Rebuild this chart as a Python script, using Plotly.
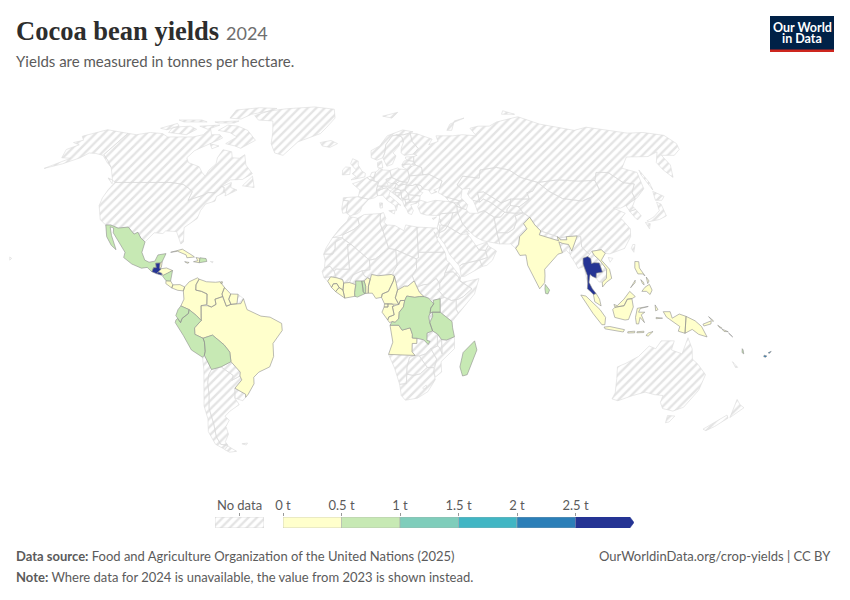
import numpy as np
import plotly.graph_objects as go

### Yields (tonnes per hectare)
yield_countries = ["Mexico", "Guatemala", "Belize", "El Salvador", "Honduras", "Nicaragua", "Costa Rica", "Panama",
                   "Cuba", "Haiti", "Dominican Republic", "Jamaica", "Trinidad", "Colombia", "Venezuela", "Guyana",
                   "Suriname", "Ecuador", "Peru", "Bolivia", "Brazil", "Guinea", "Sierra Leone", "Liberia",
                   "Cote d'Ivoire", "Ghana", "Togo", "Benin", "Nigeria", "Cameroon", "Central African Republic",
                   "Equatorial Guinea", "Gabon", "Congo", "DR Congo", "Uganda", "Tanzania", "Angola", "Madagascar",
                   "India", "Sri Lanka", "Thailand", "Vietnam", "Malaysia", "Indonesia", "Philippines",
                   "Papua New Guinea", "Solomon Islands", "Vanuatu", "Fiji"]
yield_values = [0.6, 2.8, 0.3, 2.6, 0.3, 0.6, 0.2, 0.2,
                0.3, 0.4, 0.6, 0.2, 0.1, 0.4, 0.3, 0.2,
                0.2, 0.6, 0.8, 0.6, 0.3, 0.3, 0.4, 0.3,
                0.4, 0.6, 0.6, 0.4, 0.3, 0.4, 0.3,
                0.3, 0.3, 0.3, 0.7, 0.6, 0.7, 0.3, 0.6,
                0.3, 0.7, 2.8, 0.4, 0.3, 0.4, 0.4,
                0.4, 0.3, 0.7, 2.2]

legend_edges = [0, 0.5, 1, 1.5, 2, 2.5]
legend_max = 3
legend_labels = ["0 t", "0.5 t", "1 t", "1.5 t", "2 t", "2.5 t"]
bin_colors = ["#ffffcc", "#c7e9b4", "#7fcdbb", "#41b6c4", "#2c7fb8", "#253494"]

### Country outlines (lon, lat), rough
# North America
CANADA = [(-141,69.6),(-135,69),(-128,70),(-120,69.5),(-115,68),(-108,68),(-100,68),(-95,69),(-94,72),(-90,69),(-85,69),(-82,67.5),(-87,65),(-93,62),(-94.5,59),(-92,57),(-85,55.3),(-82,53),(-79.5,51.5),(-79,54),(-77,56.5),(-78,59),(-77.5,62.4),(-72,61.5),(-70,59),(-66,58.8),(-64,60.3),(-61,56),(-56,52.5),(-60,50.2),(-66,50),(-70,47),(-65,49),(-64.5,47),(-61,46),(-64,44.5),(-66,43.7),(-66,45),(-67,45),(-67.8,47.1),(-69.2,47.4),(-71,45),(-74.7,45),(-76.5,44),(-79,43.3),(-83,42),(-82.5,45.3),(-84.5,46.5),(-88.5,48.2),(-95,49),(-123,49),(-125,50),(-130,54.5),(-131,55.2),(-136,58),(-141,60.3)]
BAFFIN = [(-62,66.5),(-68,63),(-72,64),(-78,65),(-74,68),(-80,70),(-88,71),(-85,73.5),(-78,73),(-70,71)]
VICTORIA = [(-117,70),(-105,69),(-102,71.5),(-108,73),(-118,72.5)]
ELLESMERE = [(-62,82.5),(-75,83),(-90,81.5),(-88,77),(-80,76.5),(-76,79),(-65,81)]
BANKS = [(-125,72),(-118,74.3),(-115,73),(-120,71.3)]
DEVON = [(-95,75),(-80,75.5),(-82,74.5),(-92,74.5)]
MELVILLE = [(-120,76),(-105,76),(-100,75),(-115,75)]
SOMERSET = [(-102,73),(-90,73.5),(-95,71.5)]
SOUTHAMPTON = [(-87,65),(-81,64),(-84,62.8)]
NEWFOUNDLAND = [(-59,47.7),(-53,47),(-55.5,51.5)]
VANCOUVER = [(-128,50.8),(-124,48.5),(-125,50)]
USA = [(-123,49),(-95,49),(-88.5,48.2),(-84.5,46.5),(-82.5,45.3),(-83,42),(-79,43.3),(-76.5,44),(-74.7,45),(-71,45),(-69.2,47.4),(-67.8,47.1),(-67,45),(-70,43.5),(-70,41.7),(-74,40.6),(-75.5,38),(-76,35),(-81,31.5),(-80,26),(-81,25.2),(-82.7,28),(-84,30),(-89,30.2),(-90,29.2),(-94,29.5),(-97.2,26),(-99.5,27.5),(-101.4,29.7),(-103,29),(-106.5,31.7),(-111,31.3),(-114.8,32.5),(-117.1,32.5),(-120.5,34.5),(-124,40),(-124.5,43),(-124,46.3)]
ALASKA = [(-141,69.6),(-148,70.4),(-156.5,71.3),(-166,68.3),(-162,66.5),(-166,65.5),(-161,64.5),(-165,62.5),(-162,59),(-157,58.8),(-165,54.6),(-158,56.5),(-152,59),(-150,61),(-146,60.8),(-141,60),(-135,57),(-131,55.2),(-136,58),(-141,60.3)]
HAWAII = [(-156,20.2),(-155,19.7),(-155.7,19)]
GREENLAND = [(-73,78.3),(-66,80.8),(-55,82.3),(-35,83.5),(-20,82),(-18,77),(-22,72.5),(-25,69.5),(-37,65.8),(-43,60),(-48,61),(-52,65),(-54,70),(-58,75.5),(-68,76)]
ICELAND = [(-24,65.5),(-18,66.4),(-14,65),(-18,63.4),(-22.5,64)]
# Central America and Caribbean
MEXICO = [(-117.1,32.5),(-114.8,32.5),(-111,31.3),(-106.5,31.7),(-103,29),(-101.4,29.7),(-99.5,27.5),(-97.2,26),(-97.8,22),(-96,19),(-94,18.2),(-91.5,18.6),(-90.5,21),(-87,21.5),(-88.2,18.5),(-89.1,17.9),(-91,17.8),(-90.5,16.1),(-91.7,16.1),(-92.2,14.5),(-94.5,16.2),(-97,15.9),(-101.5,17.5),(-105.5,20),(-105.3,22),(-109,26),(-112.5,29.5),(-113,31.3),(-114.8,31.8),(-113,28.5),(-110.5,24.5),(-109.5,23),(-112,24.7),(-115,28)]
GUATEMALA = [(-92.2,14.5),(-91.7,16.1),(-90.5,16.1),(-91,17.8),(-89.1,17.9),(-89.1,15.9),(-88.3,15.7),(-89.3,14.4),(-90.1,13.8)]
BELIZE = [(-89.1,17.9),(-88.2,18.5),(-88.3,16.2),(-89.1,15.9)]
EL_SALVADOR = [(-90.1,13.8),(-89.3,14.4),(-87.8,13.9),(-87.8,13.2)]
HONDURAS = [(-89.3,14.4),(-88.3,15.7),(-86,16),(-83.2,15),(-85,14),(-87,13),(-87.8,13.9)]
NICARAGUA = [(-87.5,13),(-85,14),(-83.2,15),(-83.7,11),(-85.7,11.1)]
COSTA_RICA = [(-85.7,11.1),(-83.7,11),(-82.6,9.5),(-83,8.3),(-85.7,10)]
PANAMA = [(-83,8.3),(-82.6,9.5),(-79.5,9.6),(-77.4,8.7),(-77.9,7.2),(-80.3,7.4)]
CUBA = [(-85,22),(-80,23.2),(-75,20.7),(-74.2,20.2),(-77.5,19.9),(-78,21),(-82,22.4)]
HAITI = [(-74.4,18.4),(-71.8,18),(-71.7,19.7),(-73.5,20),(-72.5,18.8)]
DOMINICAN = [(-71.8,18),(-68.5,18.5),(-69,19.6),(-71.7,19.9),(-71.7,19.7)]
JAMAICA = [(-78.3,18.4),(-76.3,18.1),(-77,17.8)]
PUERTO_RICO = [(-67,18.5),(-65.7,18.4),(-66,18)]
TRINIDAD = [(-61.7,10.7),(-61,10.7),(-61,10.1),(-61.7,10.1)]
# South America
COLOMBIA = [(-77.9,7.2),(-77.4,8.7),(-75.5,10.7),(-72,12.2),(-71.3,11.7),(-72.5,9.5),(-72.5,7.5),(-70,7),(-67.5,6),(-67.5,2),(-70,1.5),(-70,-4.2),(-72,-2.3),(-75.2,0),(-78.8,1.4),(-77.5,4)]
VENEZUELA = [(-71.3,11.7),(-68,10.7),(-64,10.5),(-62,10.7),(-60,8.5),(-61,6),(-60.7,5),(-64,4),(-63.5,2),(-65.5,1),(-67,1.5),(-67.5,2),(-67.5,6),(-70,7),(-72.5,7.5),(-72.5,9.5)]
GUYANA = [(-60,8.5),(-57.2,6),(-58,4),(-57,2),(-59,1.3),(-60.7,5),(-61,6)]
SURINAME = [(-57.2,6),(-54,5.9),(-54.4,2.3),(-57,2),(-58,4)]
FRENCH_GUIANA = [(-54,5.9),(-51.6,4.2),(-52.7,2.3),(-54.4,2.3)]
ECUADOR = [(-78.8,1.4),(-75.2,0),(-75.5,-1.5),(-78.3,-3.4),(-79,-5),(-80.3,-3.4),(-81,-2.3),(-80,0)]
PERU = [(-75.2,0),(-72,-2.3),(-70,-4.2),(-73,-7),(-73,-9.5),(-69.5,-11),(-69,-12.5),(-69,-16),(-69.5,-17.5),(-70.4,-18.3),(-75,-15.5),(-78,-10),(-81.3,-5),(-81,-4),(-80.3,-3.4),(-79,-5),(-78.3,-3.4),(-75.5,-1.5)]
BOLIVIA = [(-69.5,-11),(-65.3,-9.8),(-60.5,-13.5),(-58.2,-16.3),(-58,-20),(-62.6,-22),(-67,-23),(-68.5,-19.5),(-69.5,-17.5),(-69,-16),(-69,-12.5)]
BRAZIL = [(-60.7,5),(-59,1.3),(-57,2),(-54.4,2.3),(-52.7,2.3),(-51.6,4.2),(-50,0),(-44,-2.5),(-40,-2.9),(-35,-5.3),(-34.8,-8),(-39,-13),(-39,-18),(-41,-22),(-46,-24),(-48.5,-26),(-48.7,-28.5),(-52,-32.5),(-53.4,-33.7),(-53.2,-32.5),(-57.6,-30.2),(-54,-27),(-54.6,-25.5),(-54.3,-24),(-55.7,-22.3),(-58,-20),(-58.2,-16.3),(-60.5,-13.5),(-65.3,-9.8),(-69.5,-11),(-73,-9.5),(-73,-7),(-70,-4.2),(-70,1.5),(-67,1.5),(-65.5,1),(-63.5,2),(-64,4)]
PARAGUAY = [(-58,-20),(-55.7,-22.3),(-54.3,-24),(-54.6,-25.5),(-58.5,-27.2),(-57.6,-25.3),(-62.6,-22)]
URUGUAY = [(-57.6,-30.2),(-53.2,-32.5),(-53.4,-33.7),(-55,-35),(-58.4,-34)]
ARGENTINA = [(-67,-23),(-62.6,-22),(-57.6,-25.3),(-58.5,-27.2),(-54.6,-25.5),(-54,-27),(-57.6,-30.2),(-58.4,-34),(-57,-36.5),(-62,-39),(-65,-41),(-63.5,-42.5),(-66,-45),(-66,-48),(-69,-51),(-68.4,-52.4),(-71.9,-52),(-72.5,-49),(-71.5,-44),(-71.5,-38),(-70,-33),(-69.5,-28),(-68.5,-25)]
CHILE = [(-70.4,-18.3),(-69.5,-17.5),(-68.5,-19.5),(-67,-23),(-68.5,-25),(-69.5,-28),(-70,-33),(-71.5,-38),(-71.5,-44),(-72.5,-49),(-71.9,-52),(-68.4,-52.4),(-71,-54),(-74.5,-52),(-75.5,-47),(-73.5,-42),(-73.5,-37),(-71.5,-30),(-70.4,-23)]
TIERRA_DEL_FUEGO = [(-68.6,-52.7),(-65.2,-54.8),(-69,-55.2),(-71,-54.2)]
FALKLANDS = [(-61,-51.8),(-58,-51.5),(-59,-52.3)]
# Africa
MOROCCO = [(-5.9,35.8),(-2,35.1),(-1.2,32.5),(-3.7,30.8),(-8.7,28.7),(-13.2,27.7),(-12,29),(-9.8,31.5),(-6.8,34)]
WESTERN_SAHARA = [(-13.2,27.7),(-8.7,27.7),(-12,26),(-12,23.4),(-13,21.3),(-17,21.3),(-16,23.7)]
ALGERIA = [(-2,35.1),(1,36.5),(8.6,36.9),(8.3,33),(9.5,30.2),(11.9,23.5),(6,19.5),(3.3,19),(-4.8,25),(-8.7,27.3),(-8.7,28.7),(-3.7,30.8),(-1.2,32.5)]
TUNISIA = [(8.6,36.9),(10,37.3),(11,35),(10,33.5),(11.5,32.5),(9.5,30.2),(8.3,33)]
LIBYA = [(11.5,32.5),(15,32.3),(19,30.3),(20,32.5),(25,31.7),(25,20),(24,19.5),(15,23),(11.9,23.5),(9.5,30.2)]
EGYPT = [(25,31.7),(31,31.5),(34.2,31.3),(35,29.5),(34,27.5),(32.6,29.9),(34,26.5),(36.9,22),(25,22)]
SUDAN = [(25,22),(36.9,22),(37.5,18.7),(38.6,18),(36.5,14.3),(36,12.7),(33.9,10),(32.5,12),(29,9.7),(27,9.6),(24,8.7),(22.8,11),(22,13),(24,15.7),(24,19.5),(25,20)]
SOUTH_SUDAN = [(24,8.7),(27,9.6),(29,9.7),(32.5,12),(33.9,10),(34,8),(33,7.8),(35.9,4.7),(34,4.2),(31,3.6),(29,4.4),(27,5),(25,6.7)]
ETHIOPIA = [(36,12.7),(36.5,14.3),(40,14.5),(42.3,12.5),(42.8,11),(48,8),(44,4.9),(42,4),(39,3.5),(35.9,4.7),(33,7.8),(34,8),(33.9,10)]
ERITREA = [(36.5,14.3),(38.6,18),(43,12.7),(42.3,12.5),(40,14.5)]
DJIBOUTI = [(42.3,12.5),(43.3,12.5),(42.8,11)]
SOMALIA = [(42.8,11),(44,10.5),(51.2,11.9),(49,6),(42,-1.5),(41,0),(41,3.9),(42,4),(44,4.9),(48,8)]
KENYA = [(35.9,4.7),(39,3.5),(41,3.9),(41,0),(42,-1.5),(39.2,-4.6),(34,-1),(34,4.2)]
UGANDA = [(31,3.6),(34,4.2),(34,-1),(30.5,-1),(29.6,-1.4),(29.9,0.6),(31.2,2.2)]
TANZANIA = [(30.5,-1),(34,-1),(39.2,-4.6),(39.5,-7),(40.4,-10.4),(37,-11.7),(34.8,-11.5),(33,-9.4),(30.8,-8.2),(29.5,-5),(30.8,-2.5)]
RWANDA = [(29.6,-1.4),(30.5,-1),(30.8,-2.5),(29,-2.7)]
BURUNDI = [(29,-2.7),(30.8,-2.5),(29.5,-4.4)]
DR_CONGO = [(12.2,-6),(13.1,-4.6),(14.4,-4.9),(16,-3.5),(16.2,-1),(18,1),(18.6,3.5),(19.5,5.2),(23,4.7),(25,5),(27,5),(29,4.4),(31.2,2.2),(29.9,0.6),(29.6,-1.4),(29,-2.7),(29.5,-5),(30.8,-8.2),(28.4,-9),(28.4,-11.8),(29.8,-12.2),(29,-13.4),(27,-11.6),(24,-11),(22,-10.9),(22,-9.5),(21,-7),(17.5,-7.9),(16,-6)]
CONGO = [(11.2,-4),(11.7,-2.8),(13,-2.4),(14,-2),(13.2,1.2),(14,1.4),(16,2),(16.7,3.5),(18.6,3.5),(18,1),(16.2,-1),(16,-3.5),(14.4,-4.9),(13.1,-4.6),(12,-5)]
GABON = [(9.6,1),(11.3,1),(11.3,2.2),(13.2,2.2),(14,1.4),(13.2,1.2),(14,-2),(13,-2.4),(11.7,-2.8),(11.2,-4),(8.7,-1)]
EQ_GUINEA = [(9.6,1),(9.8,2.2),(11.3,2.2),(11.3,1)]
CAMEROON = [(8.5,4.7),(9.8,2.2),(11.3,2.2),(13.2,2.2),(16,2),(14.5,4.5),(15.5,7.5),(15,10),(14.2,12.8),(13.7,11),(11.5,7),(8.8,6)]
CAR = [(14.5,4.5),(15.5,7.5),(18.5,9),(20,9),(22.8,11),(24,8.7),(25,6.7),(27,5),(25,5),(23,4.7),(19.5,5.2),(18.6,3.5),(16.7,3.5),(16,2)]
CHAD = [(13.5,14),(14.2,12.8),(15,10),(15.5,7.5),(18.5,9),(20,9),(22.8,11),(22,13),(24,15.7),(24,19.5),(15,23),(15.5,17)]
NIGER = [(0,14.9),(3.5,15.3),(3.3,19),(6,19.5),(11.9,23.5),(15,23),(15.5,17),(13.5,14),(14.2,12.8),(13,13.5),(7,13),(4.2,13.5),(3.6,11.7),(2.4,12.2),(1,13)]
NIGERIA = [(2.7,6.3),(2.8,9),(3.6,11.7),(4.2,13.5),(7,13),(13,13.5),(14.2,12.8),(13.7,11),(11.5,7),(8.8,6),(8.5,4.7),(6,4.3),(4.5,6.3)]
BENIN = [(1.6,6.2),(2.7,6.3),(2.8,9),(3.6,11.7),(2.4,12.2),(0.9,11),(1.6,9)]
TOGO = [(1.2,6.1),(1.6,6.2),(1.6,9),(0.9,11),(-0.1,11),(0.5,8),(0.5,7)]
GHANA = [(-3.1,5.1),(-2,4.8),(1.2,6.1),(0.5,7),(0.5,8),(-0.1,11),(-2.8,11),(-2.7,9.4),(-3.2,6.5)]
BURKINA = [(-5.5,10.4),(-2.8,9.6),(-2.8,11),(-0.1,11),(0.9,11),(2.4,12.2),(1,13),(0,14.9),(-2,14.2),(-4,13.3)]
COTE_DIVOIRE = [(-7.5,4.4),(-3.1,5.1),(-3.2,6.5),(-2.7,9.4),(-2.8,9.6),(-5.5,10.4),(-8,10.2),(-8.3,7.5)]
LIBERIA = [(-11.5,6.9),(-7.5,4.4),(-8.3,7.5),(-10,8.5)]
SIERRA_LEONE = [(-13.3,8.5),(-11.5,6.9),(-10,8.5),(-11,10),(-12.5,9.9)]
GUINEA = [(-15,10.9),(-13.3,8.5),(-12.5,9.9),(-11,10),(-10,8.5),(-8.3,7.5),(-8,10.2),(-8.5,11.5),(-11,12.2),(-13.7,12.6)]
GUINEA_BISSAU = [(-16.7,12.3),(-15,10.9),(-13.7,12.6)]
SENEGAL = [(-17.5,14.7),(-16.7,12.3),(-13.7,12.6),(-11.4,12.4),(-12.2,14.7),(-14,16.6),(-16.5,16.1)]
MALI = [(-12.2,14.7),(-11.4,12.4),(-8.5,11.5),(-8,10.2),(-5.5,10.4),(-4,13.3),(-2,14.2),(0,14.9),(3.5,15.3),(3.3,19),(-4.8,25),(-6.5,25),(-5.5,15.5),(-9.5,15.4),(-11.4,15.6)]
MAURITANIA = [(-17,21.3),(-13,21.3),(-12,23.4),(-12,26),(-8.7,27.3),(-4.8,25),(-6.5,25),(-5.5,15.5),(-9.5,15.4),(-11.4,15.6),(-12.2,14.7),(-14,16.6),(-16.5,16.1),(-16.3,19)]
ANGOLA = [(11.7,-17.2),(13.5,-12.5),(12.2,-6),(16,-6),(17.5,-7.9),(21,-7),(22,-9.5),(22,-10.9),(24,-11),(24,-13),(22,-13),(22,-16.2),(23.4,-17.6),(20.5,-17.5),(13,-17.2)]
ZAMBIA = [(22,-13),(24,-13),(24,-11),(27,-11.6),(29,-13.4),(29.8,-12.2),(28.4,-11.8),(28.4,-9),(30.8,-8.2),(33,-9.4),(33,-12),(33.2,-14),(30.2,-15),(28,-17),(25.3,-17.8),(23.4,-17.6),(22,-16.2)]
MALAWI = [(33,-9.4),(34.8,-11.5),(35,-14),(35.3,-17),(34,-14.5),(33.2,-14),(33,-12)]
MOZAMBIQUE = [(40.4,-10.4),(40.6,-15),(35,-20),(35.5,-24),(32.9,-25.9),(32,-24),(33,-19),(30.2,-15),(33.2,-14),(34,-14.5),(35.3,-17),(35,-14),(34.8,-11.5),(37,-11.7)]
ZIMBABWE = [(25.3,-17.8),(28,-17),(30.2,-15),(33,-19),(32,-22.3),(29,-22.2)]
BOTSWANA = [(20,-22),(21,-18.3),(23.4,-17.6),(25.3,-17.8),(29,-22.2),(26,-24.7),(23,-25.3),(20,-24.8)]
NAMIBIA = [(11.7,-17.2),(13,-17.2),(20.5,-17.5),(23.4,-17.6),(21,-18.3),(20,-22),(20,-28.4),(17,-28.7),(14.5,-22.5)]
SOUTH_AFRICA = [(17,-28.7),(20,-28.4),(20,-24.8),(23,-25.3),(26,-24.7),(29,-22.2),(32,-22.3),(32,-24),(32.9,-26.9),(30,-31.5),(25.5,-34),(20,-34.8),(18,-33)]
LESOTHO = [(27.5,-30),(29,-29),(29.3,-30),(28,-30.6)]
MADAGASCAR = [(49.3,-12),(50.5,-15.5),(47,-25),(45,-25.5),(43.5,-22),(44.5,-16.5)]
# Europe
SPAIN = [(-9,43),(-1.8,43.4),(3.2,42.4),(0,39.5),(-0.8,37.7),(-2.2,36.8),(-5.5,36),(-7.4,37.2),(-7,39.5),(-6.5,41.8),(-9,42)]
PORTUGAL = [(-9,42),(-6.5,41.8),(-7,39.5),(-7.4,37.2),(-9,37),(-9.5,38.7)]
FRANCE = [(-1.8,43.4),(3.2,42.4),(6,43),(7.5,43.8),(7,46),(7.6,47.6),(8.2,49),(6,49.6),(4,50),(2.5,51),(-1,49.5),(-4.7,48.5),(-1,46)]
BELGIUM = [(2.5,51),(4,50),(6,49.6),(6,50.7),(4,51.4)]
NETHERLANDS = [(4,51.4),(6,50.7),(7,53.2),(5,53)]
GERMANY = [(6,50.7),(6,49.6),(8.2,49),(7.6,47.6),(13,47.5),(12,50.2),(15,51),(14.3,53.8),(11,54),(9,54.8),(8.6,54),(7,53.2)]
SWITZERLAND = [(7,46),(7.6,47.6),(9.6,47.5),(10.3,46.5),(8.5,46)]
AUSTRIA = [(9.6,47.5),(13,47.5),(14.7,48.6),(17,48.6),(16,46.8),(10.3,46.7)]
ITALY = [(7.5,43.8),(10,44),(12,42),(15.5,40),(16,38),(17,40.5),(18.4,40),(13,44),(13.7,45.6),(12,47),(10.3,46.5),(8.5,46),(7,46)]
SICILY = [(12.5,38),(15.5,38.2),(15,36.7)]
SARDINIA = [(8.3,41),(9.7,41),(9.6,39.1),(8.5,39)]
UK = [(-5.5,50),(1.5,51.2),(1.7,52.7),(0,53.5),(-2,56),(-2,57.6),(-5,58.6),(-6,56.5),(-3,54),(-5,52.5),(-3,51.4)]
IRELAND = [(-10,52),(-6.2,52.2),(-6,55),(-8.5,55.2),(-10,54)]
DENMARK = [(8.2,55),(9,54.8),(10.8,54.8),(10.5,57.7),(8.2,57)]
NORWAY = [(5,59),(8,58),(11.2,59),(12.5,61),(13.5,64.5),(18,68.5),(25,69),(29,69.7),(31,70.3),(25,71.2),(15,68.5),(10,64),(5,62)]
SWEDEN = [(11.2,59),(13,55.5),(16,56.3),(18.5,59.8),(17,61),(21,64),(22,65.7),(24,65.8),(23.5,68),(20.5,69),(18,68.5),(13.5,64.5),(12.5,61)]
FINLAND = [(24,65.8),(22,63),(21.5,61),(23,60),(28,60.5),(31.5,62.9),(29,66),(29,69.7),(25,69),(20.5,69),(23.5,68)]
POLAND = [(14.3,53.8),(15,51),(18.8,49.5),(22.8,49),(24,50.8),(23.5,54),(19.5,54.4),(18.5,54.8)]
CZECHIA = [(12,50.2),(15,51),(18.8,49.5),(17,48.6),(14.7,48.6),(13,49)]
SLOVAKIA = [(17,48.6),(18.8,49.5),(22.5,49),(22,48.4),(18,47.8)]
HUNGARY = [(16,46.8),(17,48.2),(18,47.8),(22,48.4),(21,46),(18.8,45.9)]
CROATIA = [(13.7,45.6),(16,46.8),(18.8,45.9),(19,44.9),(16,45),(16,44.5),(18.4,42.5),(15,44.5)]
BOSNIA = [(16,45),(19,44.9),(19,43),(18.4,42.5),(16,44.5)]
SERBIA = [(19,44.9),(18.8,45.9),(21,46),(22.5,44.4),(22.4,42.5),(20.5,42.3),(19,43)]
ALBANIA = [(18.4,42.5),(19,43),(20.5,42.3),(20.8,40.5),(20,39.7),(19.4,41.5)]
MACEDONIA = [(20.5,42.3),(22.4,42.5),(23,41.3),(20.8,40.9)]
GREECE = [(20,39.7),(20.8,40.9),(23,41.3),(26.3,41.5),(26,40.9),(23,40.3),(24,38),(23,36.5),(21.5,37),(21,38.5)]
BULGARIA = [(22.4,42.5),(22.5,44.2),(28,43.7),(27.5,42),(26.3,41.5),(23,41.3)]
ROMANIA = [(22,47.9),(24.9,47.8),(26.7,48.3),(28.2,45.5),(29.5,45),(28,43.7),(22.5,44.2),(21,46)]
MOLDOVA = [(26.7,48.3),(29,47.8),(30,46.4),(28.2,45.5)]
UKRAINE = [(22.8,49),(24,50.8),(24,51.6),(31,52),(34,52.3),(40,49.6),(38.2,47),(35,46),(36.5,45.3),(33.5,44.5),(32.5,46),(30,46.4),(29,47.8),(26.7,48.3),(24.9,47.8),(22,47.9)]
BELARUS = [(24,51.6),(23.5,54),(26,55.5),(28,56),(31,55),(31,52)]
LITHUANIA = [(21,55.3),(23.5,54),(26,55.5),(25,56.4),(21,56.2)]
LATVIA = [(21,56.2),(25,56.4),(28,56),(27.5,57.5),(24.4,57.9),(22.5,57.7)]
ESTONIA = [(23.5,58.5),(24.4,57.9),(27.5,57.5),(28,59.5),(23.5,59.3)]
# Asia
TURKEY = [(26.3,41.5),(28,42),(31,41.2),(35,42),(41.5,41.5),(43.7,41),(44.7,39.7),(44.5,37.5),(42.3,37.2),(36.5,36.8),(36,36.1),(32,36.2),(30,36.3),(27.3,36.9),(26.2,39.5),(27,40.5)]
CYPRUS = [(32.3,35),(34.5,35.6),(33,34.6)]
GEORGIA = [(40,43.4),(46.5,41.8),(45.5,41),(43.7,41),(41.5,41.5)]
ARMENIA = [(43.7,41),(45.5,41),(46.5,39),(44.7,39.7)]
AZERBAIJAN = [(45.5,41),(46.5,41.8),(48.6,41.8),(50,40.3),(48.8,38.4),(46.5,39)]
RUSSIA = [(28,59.5),(30,60),(28,60.5),(31.5,62.9),(29,66),(29,69.7),(33,69.4),(41,67),(38,64.5),(44,66),(44,68.5),(54,68.5),(60,69),(68,68.5),(67,72),(73,73),(80,73),(87,75),(100,77),(105,77.7),(113,74),(130,71),(140,72.5),(152,71),(160,69.7),(170,70),(178,69),(180,68.7),(180,65),(177,62.5),(170,60),(163,60),(162,56),(157,51),(155.6,54),(156,57),(163,61.5),(155,59.5),(143,59.3),(135,54.7),(141,53),(138,46.5),(132,43),(130.7,42.5),(131,45),(135,48.4),(130,48.9),(126,53),(120,53),(116.5,49.8),(108,49.5),(98,50),(87.5,49),(80,51),(76,54),(70,55),(61,54),(59,50.7),(51,51.5),(47,48),(49,46.3),(47.5,43),(48.6,41.8),(46.5,41.8),(40,43.4),(37,45),(38.2,47),(40,49.6),(34,52.3),(31,52),(31,55),(28,56),(27.5,57.5)]
NOVAYA_ZEMLYA = [(52,71),(56,74),(68,77),(60,75.5),(55,71)]
SAKHALIN = [(142,46),(143,49),(143,54),(142,52)]
SVALBARD = [(14,78),(25,80),(20,77)]
SEVERNAYA = [(96,79),(105,79),(100,81)]
KAZAKHSTAN = [(47,48),(51,51.5),(59,50.7),(61,54),(70,55),(76,54),(80,51),(87.5,49),(85,47),(83,45.5),(80,45),(80,42.5),(71,42.5),(66,41),(62,43.5),(59,45.3),(56,45),(56,41.3),(53,42),(52,42.8),(51,44.5),(53,46.7),(49,46.3)]
UZBEKISTAN = [(56,41.3),(56,45),(59,45.3),(62,43.5),(66,41),(71,42.5),(70,40),(68,38.5),(67.5,37.3),(66.5,37.4),(64,39),(61,41.2),(58,42.5)]
TURKMENISTAN = [(53,42),(56,41.3),(58,42.5),(61,41.2),(64,39),(66.5,37.4),(64,35.5),(61,35.5),(57,38),(54,37.3),(53.5,40)]
KYRGYZSTAN = [(71,42.5),(80,42.5),(74,39.5),(70,40)]
TAJIKISTAN = [(68,38.5),(70,40),(74,39.5),(75,37.2),(71,37),(67.5,37.3)]
AFGHANISTAN = [(61,35.5),(64,35.5),(66.5,37.4),(67.5,37.3),(71,37),(75,37.2),(71,36),(71,34),(69,31),(66,29.5),(61,29.5),(61,31.5)]
PAKISTAN = [(61,29.5),(66,29.5),(69,31),(71,34),(71,36),(75,37.2),(77.5,35.5),(74,33),(75,31),(71,28),(70,25),(68.5,23.5),(66.5,25.2),(61.6,25.2)]
IRAN = [(44.5,37.5),(44.7,39.7),(46.5,39),(48.8,38.4),(50,37),(54,37),(57,38),(61,35.5),(61,31.5),(61,29.5),(61.6,25.2),(57,26),(54,26.5),(51,28),(48.5,30.2),(46,33),(45,36)]
IRAQ = [(42.3,37.2),(44.5,37.5),(45,36),(46,33),(48.5,30.2),(47.5,30),(44.5,29),(39,32),(41,34.5)]
SYRIA = [(36,36.1),(36.5,36.8),(42.3,37.2),(41,34.5),(39,32),(36.2,32.5),(35.7,35)]
JORDAN = [(36.2,32.5),(39,32),(37.5,30.5),(35,29.5),(35.5,32)]
ISRAEL = [(34.2,31.3),(35,33.2),(35.5,32),(35,29.5)]
LEBANON = [(35,33.2),(35.7,35),(36.5,34)]
SAUDI_ARABIA = [(34.6,28),(35,29.5),(37.5,30.5),(39,32),(44.5,29),(47.5,29),(48.5,28),(50,26),(51,24.5),(52,23),(55,22.7),(55.5,20),(52,19),(49,18.5),(44,17.4),(43,16.7),(39,21),(37,25)]
YEMEN = [(43,16.7),(44,17.4),(49,18.5),(52,19),(53,16.6),(45,12.8),(43.5,12.7)]
OMAN = [(52,19),(55.5,20),(55,22.7),(56.3,24.5),(59.8,22.5),(57.7,19),(55,17),(53,16.6)]
UAE = [(51,24.5),(56,26),(56.3,24.5),(55,22.7),(52,23)]
KUWAIT = [(47.5,30),(48.5,29),(47.5,29)]
CHINA = [(73.6,39.4),(74,39.5),(80,42.5),(80,45),(83,45.5),(85,47),(87.5,49),(91,45.5),(96,42.7),(105,41.7),(111,43.5),(116,46),(116.5,49.8),(120,53),(126,53),(130,48.9),(135,48.4),(131,45),(130.7,42.5),(128,41.5),(124.5,40),(121.5,39),(118,39),(122.5,37),(119.5,35),(122,31),(121,28),(117,23.5),(110,21.4),(108,21.6),(106.5,23),(102.2,22.4),(101,21.3),(100,22),(98,24),(98.5,28),(97,28.3),(92,28),(88.8,27.5),(88,28),(81,30.2),(79,32.5),(77.5,35.5),(75,37.2)]
HAINAN = [(109,20),(111,19.7),(109.5,18.2)]
TAIWAN = [(121,25),(122,25),(120.8,22),(120,23.5)]
MONGOLIA = [(87.5,49),(98,50),(108,49.5),(116.5,49.8),(116,46),(111,43.5),(105,41.7),(96,42.7),(91,45.5)]
NORTH_KOREA = [(124.5,40),(128,41.5),(130.7,42.5),(127.5,39.7),(128.3,38.5),(125,37.7)]
SOUTH_KOREA = [(125,37.7),(128.3,38.5),(129.4,36),(127,34.5),(126.3,35)]
HONSHU = [(130.9,34),(135,35.6),(139,38),(140,41.3),(141.5,40.5),(141,36),(137,34.6),(132,33.8)]
HOKKAIDO = [(140,42),(141.5,45.5),(145.3,43.5),(143,42)]
KYUSHU = [(130,33.5),(132,33),(130.7,31)]
NEPAL = [(81,30.2),(88,28),(88.2,26.4),(80,28.7)]
BHUTAN = [(88.8,27.5),(92,28),(92,26.8),(89,26.8)]
BANGLADESH = [(88.2,26),(89.8,25.4),(92.3,25),(92.5,21),(91,22.7),(89,21.8),(88.5,24)]
INDIA = [(77.5,35.5),(79,32.5),(81,30.2),(80,28.7),(88.2,26.4),(88,28),(88.8,27.5),(89,26.8),(92,26.8),(92,28),(97,28.3),(94.5,24.5),(93.3,22.5),(92.3,25),(89.8,25.4),(88.2,26),(88.5,24),(89,21.8),(87,21.3),(85,19.5),(80.3,15.5),(80.2,13),(79.8,10.3),(77.5,8),(76,11),(73,17),(72.7,21),(70,20.8),(68.5,23.5),(70,25),(71,28),(75,31),(74,33)]
SRI_LANKA = [(80,9.7),(81.8,7.5),(81,6),(80,6.2),(79.8,8)]
MYANMAR = [(92.3,20.8),(93.3,22.5),(94.5,24.5),(97,28.3),(98.5,28),(98,24),(100,22),(101,21.3),(100,20.4),(97.8,19.7),(97.5,17.5),(98.8,13),(98.6,10),(97.7,16.5),(95,15.8),(94,18)]
THAILAND = [(100,20.4),(101.2,19.5),(101.2,17.7),(102.5,18),(104.7,17.9),(105.5,14.4),(102.8,14),(102.5,12.1),(101,12.7),(100,13.5),(99.2,10.5),(100.5,8),(102,6.2),(100.8,5.8),(99.5,7),(98.3,8),(98.6,10),(98.8,13),(97.5,17.5),(97.8,19.7)]
LAOS = [(101,21.3),(102.2,22.4),(103,20.8),(105,19),(107.5,15.5),(105.5,14.4),(104.7,17.9),(102.5,18),(101.2,17.7),(101.2,19.5),(100,20.4)]
VIETNAM = [(102.2,22.4),(106.5,23),(108,21.6),(105.8,19),(108.8,15.5),(109.3,12),(106.8,10.5),(105,8.7),(105,10.5),(107,12),(107.5,15.5),(105,19),(103,20.8)]
CAMBODIA = [(102.5,12.1),(102.8,14),(105.5,14.4),(107.5,15.5),(107,12),(105,10.5),(103.6,10.6)]
MALAYA = [(100.8,5.8),(102,6.2),(103.4,4),(104,1.4),(101.3,3)]
SARAWAK = [(109.6,2),(111,1.5),(114,4),(116.7,7),(119,5),(117.5,4.2),(115.5,4),(114,1.5),(110,0.9)]
KALIMANTAN = [(109,0),(110,0.9),(114,1.5),(115.5,4),(117.5,4.2),(118,1),(116,-3.8),(114.5,-4),(110,-3)]
SUMATRA = [(95.3,5.6),(97.5,5.2),(103.5,0),(106,-3),(105.8,-5.8),(104.5,-5.8),(100.5,-1.5)]
JAVA = [(105.5,-6.7),(108,-6.5),(114.5,-7.7),(114,-8.6),(106,-7.4)]
SULAWESI = [(119.5,-5.5),(119,-3),(119.7,0.5),(124.5,1.2),(121,0.4),(120.3,-1),(123,-1),(121.5,-2),(123,-5),(121,-3),(120.5,-5.5)]
WEST_PAPUA = [(131,-0.8),(134,-0.8),(135,-3.3),(138,-1.7),(141,-2.6),(141,-9.1),(138,-8.3),(138.5,-6.5),(134,-3.8),(132.5,-2.9)]
LOMBOK_SUMBAWA = [(116,-8.5),(119,-8.3),(119,-8.9),(116,-9)]
FLORES = [(120,-8.5),(123,-8.3),(123,-8.8),(120,-8.9)]
TIMOR = [(124,-9.9),(125,-9),(127,-8.4),(125,-10.2)]
HALMAHERA = [(127.5,1.8),(128.7,0),(127.7,-0.5)]
SERAM = [(128,-3),(130.8,-3.3),(128,-3.5)]
PNG_MAIN = [(141,-2.6),(145,-4.3),(148,-6.5),(150.8,-10.5),(147,-9.5),(144,-7.6),(141,-9.1)]
NEW_BRITAIN = [(148.5,-5.6),(152,-4.3),(152,-5.5),(149,-6.3)]
NEW_IRELAND = [(150.8,-2.7),(153,-4.3),(152.8,-4.6)]
CHOISEUL = [(155,-6),(157,-7.2),(156,-7)]
GUADALCANAL = [(157,-7.5),(159.8,-8.5),(158,-8.4)]
MALAITA = [(160,-9),(162,-10.5),(161,-10)]
VANUATU_ISLES = [(167,-15),(167.5,-15.5),(168.2,-17),(167.3,-16.5)]
VITI_LEVU = [(177.3,-17.5),(178.6,-17.8),(178.2,-18.3),(177.3,-18.1)]
VANUA_LEVU = [(178.8,-16.6),(180,-16),(179.5,-16.8)]
NEW_CALEDONIA = [(164,-20),(167,-22.2),(166,-22.2)]
LUZON = [(120.5,18.5),(122.2,18.4),(122,16),(124,13),(123,13.7),(121,13.7),(120,16)]
MINDANAO = [(122,7),(123.5,8.6),(125.5,9.7),(126.5,7.5),(125.5,5.8),(124,7)]
VISAYAS = [(122,11.5),(123,10.5),(123.2,9.5),(122.5,10)]
SAMAR = [(124.5,12.5),(125.5,11),(124.8,10)]
PALAWAN = [(117.2,8.4),(119.5,11.3),(119.3,10.3)]
AUSTRALIA = [(113.5,-22),(114.3,-26.5),(115.5,-32),(115,-34.3),(118,-35),(124,-33),(129,-31.7),(134,-32.7),(137.8,-33),(138,-35.6),(140.5,-38),(146,-39),(150,-37.5),(153,-31),(153.5,-25),(149,-21),(146,-19),(145,-15),(142.5,-10.8),(141,-17),(136,-15.5),(136.7,-12),(131,-12),(129,-15),(126,-14),(122,-18),(117,-20.6)]
TASMANIA = [(144.7,-40.7),(148.3,-40.9),(147.5,-43.2),(146,-43.5)]
NZ_NORTH = [(172.7,-34.5),(175.5,-36.5),(178.3,-37.7),(175,-41.5),(174,-39)]
NZ_SOUTH = [(172.7,-40.5),(174.3,-41.7),(171,-45),(168.5,-46.6),(166.5,-46),(170,-43)]

no_data_shapes = [CANADA, BAFFIN, VICTORIA, ELLESMERE, BANKS, DEVON, MELVILLE, SOMERSET, SOUTHAMPTON, NEWFOUNDLAND,
                  VANCOUVER, USA, ALASKA, HAWAII, GREENLAND, ICELAND, PUERTO_RICO, FRENCH_GUIANA, PARAGUAY, URUGUAY,
                  ARGENTINA, CHILE, TIERRA_DEL_FUEGO, FALKLANDS, MOROCCO, WESTERN_SAHARA, ALGERIA, TUNISIA, LIBYA,
                  EGYPT, SUDAN, SOUTH_SUDAN, ETHIOPIA, ERITREA, DJIBOUTI, SOMALIA, KENYA, RWANDA, BURUNDI, CHAD,
                  NIGER, BURKINA, GUINEA_BISSAU, SENEGAL, MALI, MAURITANIA, ZAMBIA, MALAWI, MOZAMBIQUE, ZIMBABWE,
                  BOTSWANA, NAMIBIA, SOUTH_AFRICA, LESOTHO, SPAIN, PORTUGAL, FRANCE, BELGIUM, NETHERLANDS, GERMANY,
                  SWITZERLAND, AUSTRIA, ITALY, SICILY, SARDINIA, UK, IRELAND, DENMARK, NORWAY, SWEDEN, FINLAND,
                  POLAND, CZECHIA, SLOVAKIA, HUNGARY, CROATIA, BOSNIA, SERBIA, ALBANIA, MACEDONIA, GREECE, BULGARIA,
                  ROMANIA, MOLDOVA, UKRAINE, BELARUS, LITHUANIA, LATVIA, ESTONIA, TURKEY, CYPRUS, GEORGIA, ARMENIA,
                  AZERBAIJAN, RUSSIA, NOVAYA_ZEMLYA, SAKHALIN, SVALBARD, SEVERNAYA, KAZAKHSTAN, UZBEKISTAN,
                  TURKMENISTAN, KYRGYZSTAN, TAJIKISTAN, AFGHANISTAN, PAKISTAN, IRAN, IRAQ, SYRIA, JORDAN, ISRAEL,
                  LEBANON, SAUDI_ARABIA, YEMEN, OMAN, UAE, KUWAIT, CHINA, HAINAN, TAIWAN, MONGOLIA, NORTH_KOREA,
                  SOUTH_KOREA, HONSHU, HOKKAIDO, KYUSHU, NEPAL, BHUTAN, BANGLADESH, MYANMAR, LAOS, CAMBODIA,
                  NEW_CALEDONIA, AUSTRALIA, TASMANIA, NZ_NORTH, NZ_SOUTH]

yield_shapes = [("Mexico", MEXICO), ("Guatemala", GUATEMALA), ("Belize", BELIZE), ("El Salvador", EL_SALVADOR),
                ("Honduras", HONDURAS), ("Nicaragua", NICARAGUA), ("Costa Rica", COSTA_RICA), ("Panama", PANAMA),
                ("Cuba", CUBA), ("Haiti", HAITI), ("Dominican Republic", DOMINICAN), ("Jamaica", JAMAICA),
                ("Trinidad", TRINIDAD), ("Colombia", COLOMBIA), ("Venezuela", VENEZUELA), ("Guyana", GUYANA),
                ("Suriname", SURINAME), ("Ecuador", ECUADOR), ("Peru", PERU), ("Bolivia", BOLIVIA), ("Brazil", BRAZIL),
                ("Guinea", GUINEA), ("Sierra Leone", SIERRA_LEONE), ("Liberia", LIBERIA), ("Cote d'Ivoire", COTE_DIVOIRE),
                ("Ghana", GHANA), ("Togo", TOGO), ("Benin", BENIN), ("Nigeria", NIGERIA), ("Cameroon", CAMEROON),
                ("Central African Republic", CAR), ("Equatorial Guinea", EQ_GUINEA), ("Gabon", GABON), ("Congo", CONGO),
                ("DR Congo", DR_CONGO), ("Uganda", UGANDA), ("Tanzania", TANZANIA), ("Angola", ANGOLA),
                ("Madagascar", MADAGASCAR), ("India", INDIA), ("Sri Lanka", SRI_LANKA), ("Thailand", THAILAND),
                ("Vietnam", VIETNAM), ("Malaysia", MALAYA), ("Malaysia", SARAWAK), ("Indonesia", KALIMANTAN),
                ("Indonesia", SUMATRA), ("Indonesia", JAVA), ("Indonesia", SULAWESI), ("Indonesia", WEST_PAPUA),
                ("Indonesia", LOMBOK_SUMBAWA), ("Indonesia", FLORES), ("Indonesia", TIMOR), ("Indonesia", HALMAHERA),
                ("Indonesia", SERAM), ("Philippines", LUZON), ("Philippines", MINDANAO), ("Philippines", VISAYAS),
                ("Philippines", SAMAR), ("Philippines", PALAWAN), ("Papua New Guinea", PNG_MAIN),
                ("Papua New Guinea", NEW_BRITAIN), ("Papua New Guinea", NEW_IRELAND), ("Solomon Islands", CHOISEUL),
                ("Solomon Islands", GUADALCANAL), ("Solomon Islands", MALAITA), ("Vanuatu", VANUATU_ISLES),
                ("Fiji", VITI_LEVU), ("Fiji", VANUA_LEVU)]

# Robinson table
rob_lat = [0, 5, 10, 15, 20, 25, 30, 35, 40, 45, 50, 55, 60, 65, 70, 75, 80, 85, 90]
rob_plen = [1, .9986, .9954, .99, .9822, .973, .96, .9427, .9216, .8962, .8679, .835, .7986, .7597, .7186, .6732, .6213, .5722, .5322]
rob_pdfe = [0, .062, .124, .186, .248, .31, .372, .434, .4958, .5571, .6176, .6769, .7346, .7903, .8435, .8936, .9394, .9761, 1]

WIDTH = 850
HEIGHT = 600
PX_PER_DEG = 2.3
LON0_PX = 362
EQUATOR_PX = 309.6


def robinson(shapes):
    """lon/lat polygons to one x/y path, polygons split by None"""
    xs, ys = [], []
    for shape in shapes:
        pts = np.array(shape + [shape[0]], dtype=float)
        abs_lat = np.abs(pts[:, 1])
        xs += list(pts[:, 0] * np.interp(abs_lat, rob_lat, rob_plen)) + [None]
        ys += list(np.sign(pts[:, 1]) * np.interp(abs_lat, rob_lat, rob_pdfe) * 210 / PX_PER_DEG) + [None]
    return xs, ys


def to_bin(value):
    return int(np.searchsorted(legend_edges, value, side="right")) - 1


def px(x):
    return x / WIDTH


def py(y):
    return 1 - y / HEIGHT


fig = go.Figure()

HATCH = dict(shape="/", size=6, solidity=0.38, fgcolor="#e4e4e4", bgcolor="#ffffff")

# no data countries
x, y = robinson(no_data_shapes)
fig.add_trace(go.Scatter(x=x, y=y, mode="lines", fill="toself", fillpattern=HATCH,
                         line=dict(color="#dadada", width=0.6), hoverinfo="skip"))

# countries with a value, one trace per colour bin
value_by_country = dict(zip(yield_countries, yield_values))
for i, color in enumerate(bin_colors):
    shapes = [shape for name, shape in yield_shapes if to_bin(value_by_country[name]) == i]
    if not shapes:
        continue
    x, y = robinson(shapes)
    fig.add_trace(go.Scatter(x=x, y=y, mode="lines", fill="toself", fillcolor=color,
                             line=dict(color="#8f8f8f", width=0.6), hoverinfo="skip"))

# legend colour bar, with its own little axis
for i in range(len(legend_edges) - 1):
    fig.add_trace(go.Bar(x=[legend_edges[i + 1] - legend_edges[i]], base=[legend_edges[i]], y=[0], orientation="h",
                         width=1, marker=dict(color=bin_colors[i], line=dict(color="#a8a8a8", width=0.5)),
                         xaxis="x2", yaxis="y2", hoverinfo="skip"))
fig.add_trace(go.Scatter(x=[legend_edges[-1], legend_max - 0.035, legend_max, legend_max - 0.035, legend_edges[-1]],
                         y=[-0.5, -0.5, 0, 0.5, 0.5], mode="lines", fill="toself", fillcolor=bin_colors[-1],
                         line=dict(color=bin_colors[-1], width=0.5), xaxis="x2", yaxis="y2", hoverinfo="skip"))

# legend no data swatch
fig.add_trace(go.Bar(x=["No data"], y=[1], width=1,
                     marker=dict(color="#ffffff", line=dict(color="#d4d4d4", width=0.7), pattern=HATCH),
                     xaxis="x3", yaxis="y3", hoverinfo="skip"))

label_font = dict(family="Lato", size=13, color="#5b5b5b")
hidden = dict(visible=False, fixedrange=True)

fig.update_layout(
    template="none",  # the default template turns automargin on, which shrinks the plot area
    width=WIDTH,
    height=HEIGHT,
    margin=dict(l=0, r=0, t=0, b=0),
    paper_bgcolor="#ffffff",
    plot_bgcolor="rgba(0,0,0,0)",
    showlegend=False,
    barmode="overlay",
    font=dict(family="Lato"),
    xaxis=dict(domain=[0, 1], range=[-LON0_PX / PX_PER_DEG, (WIDTH - LON0_PX) / PX_PER_DEG], **hidden),
    yaxis=dict(domain=[0, 1], range=[(EQUATOR_PX - HEIGHT) / PX_PER_DEG, EQUATOR_PX / PX_PER_DEG], **hidden),
    xaxis2=dict(domain=[px(283), px(634)], range=[0, legend_max], anchor="y2", side="top", showgrid=False,
                zeroline=False, showline=False, tickmode="array", tickvals=legend_edges, ticktext=legend_labels,
                ticks="outside", ticklen=3, tickcolor="#999999", tickwidth=1, tickfont=label_font,
                ticklabelstandoff=-2, fixedrange=True),
    yaxis2=dict(domain=[py(528), py(517)], range=[-0.5, 0.5], anchor="x2", **hidden),
    xaxis3=dict(domain=[px(215), px(264)], anchor="y3", side="top", showgrid=False, zeroline=False, showline=False,
                ticks="outside", ticklen=3, tickcolor="#999999", tickfont=label_font,
                ticklabelstandoff=-2, fixedrange=True),
    yaxis3=dict(domain=[py(528), py(517)], range=[0, 1], anchor="x3", **hidden),
    # logo
    shapes=[
        dict(type="rect", xref="paper", yref="paper", x0=px(770), x1=px(834), y0=py(52), y1=py(16),
             fillcolor="#002147", line=dict(width=0)),
        dict(type="rect", xref="paper", yref="paper", x0=px(770), x1=px(834), y0=py(52), y1=py(49.5),
             fillcolor="#ce261e", line=dict(width=0)),
    ],
)


def add_text(x, y, text, size, color, family="Lato", align="left"):
    fig.add_annotation(x=px(x), y=py(y), xref="paper", yref="paper", text=text, showarrow=False,
                       xanchor=align, yanchor="middle", align=align,
                       font=dict(family=family, size=size, color=color))


add_text(14, 31, "<b>Cocoa bean yields</b>", 26.5, "#2d2d2d", family="Liberation Serif")
add_text(224, 33, "2024", 18, "#6e6e6e")
add_text(14, 61, "Yields are measured in tonnes per hectare.", 15, "#5b5b5b")
add_text(802, 27, "<b>Our World</b>", 12.5, "#ffffff", align="center")
add_text(802, 39, "<b>in Data</b>", 12.5, "#ffffff", align="center")
add_text(14, 556, "<b>Data source:</b> Food and Agriculture Organization of the United Nations (2025)", 13, "#5b5b5b")
add_text(14, 577, "<b>Note:</b> Where data for 2024 is unavailable, the value from 2023 is shown instead.", 13, "#5b5b5b")
add_text(833, 556, "OurWorldinData.org/crop-yields | CC BY", 13, "#5b5b5b", align="right")

# page body has a default margin that would push the figure off the window
fig.write_html("out.html", config={"displayModeBar": False}, post_script="document.body.style.margin='0';")
